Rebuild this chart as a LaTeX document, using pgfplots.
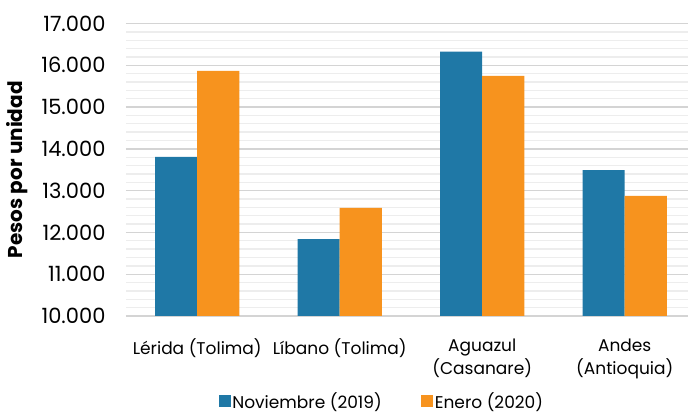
\documentclass[border=0pt]{standalone}
\usepackage{fontspec}
\setmainfont{Poppins}
\usepackage{pgfplots}
\pgfplotsset{compat=1.18}
\definecolor{cblue}{RGB}{31,120,166}
\definecolor{corange}{RGB}{247,147,30}
\begin{document}
\begin{tikzpicture}
\useasboundingbox (0,0) rectangle (688pt,414pt);
\begin{axis}[
 at={(126pt,98pt)}, anchor=south west,
 width=562pt, height=292.5pt, scale only axis,
 ymin=10000, ymax=17000, ytick={10000,11000,...,17000},
 minor y tick num=4,
 xmin=-0.5, xmax=3.444,
 xtick={0,1,2,3},
 xticklabels={{Lérida (Tolima)},{Líbano (Tolima)},{Aguazul\\(Casanare)},{Andes\\(Antioquia)}},
 x tick label style={align=center, anchor=north, yshift=-19pt, font=\fontsize{17}{23}\selectfont},
 y tick label style={xshift=-17pt, font=\fontsize{21}{23}\selectfont},
 scaled y ticks=false,
 /pgf/number format/.cd, fixed, 1000 sep={.}, assume math mode=true, /pgfplots/.cd,
 ybar=0pt, bar width=0.295,
 axis line style={draw=none},
 major tick length=0pt, minor tick length=0pt,
 ymajorgrids, yminorgrids,
 major grid style={draw=black!17, line width=1.3pt},
 minor grid style={draw=black!7, line width=1.3pt},
 ylabel={Pesos por unidad},
 ylabel style={font=\bfseries\fontsize{20}{22}\selectfont, at={(axis description cs:-0.194,0.5)}, anchor=center},
 legend style={at={(axis description cs:0.455,-0.292)}, anchor=center, draw=none, fill=none,
   legend columns=2, font=\fontsize{17}{20}\selectfont, nodes={inner sep=1.5pt},
   /tikz/every even column/.append style={column sep=38pt}},
]
\addplot[fill=cblue, draw=none, legend image code/.code={\fill[cblue] (0pt,-5.5pt) rectangle (12pt,6.5pt);}]
 coordinates {(0,13810) (1,11840) (2,16325) (3,13490)};
\addplot[fill=corange, draw=none, legend image code/.code={\fill[corange] (0pt,-5.5pt) rectangle (12pt,6.5pt);}]
 coordinates {(0,15865) (1,12590) (2,15745) (3,12875)};
\legend{Noviembre (2019), Enero (2020)}
\end{axis}
\end{tikzpicture}
\end{document}
